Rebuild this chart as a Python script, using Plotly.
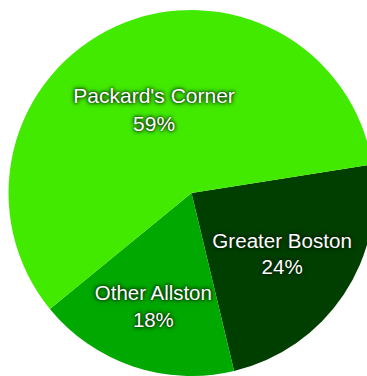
import plotly.graph_objects as go

labels = ["Greater Boston", "Other Allston", "Packard's Corner"]
values = [24, 18, 59]
colors = ["#003f00", "#00a800", "#42ea00"]

fig = go.Figure(go.Pie(
    labels=labels,
    values=values,
    sort=False,
    direction="clockwise",
    rotation=81,
    marker=dict(colors=colors, line=dict(width=0)),
    texttemplate="%{label}<br>%{value}%",
    textposition="inside",
    insidetextorientation="horizontal",
    textfont=dict(family="Liberation Sans, Arial, sans-serif", size=21, color="white",
                  shadow="0px 0px 3px #001a00, 0px 0px 5px #001a00"),
    hoverinfo="skip",
    showlegend=False,
))

fig.update_layout(
    width=375, height=376,
    margin=dict(l=8, r=0, t=10, b=0),
    paper_bgcolor="white",
    plot_bgcolor="white",
)

fig.write_html("out.html", post_script="document.documentElement.style.overflow='hidden';document.body.style.overflow='hidden';document.body.style.margin='0';")
